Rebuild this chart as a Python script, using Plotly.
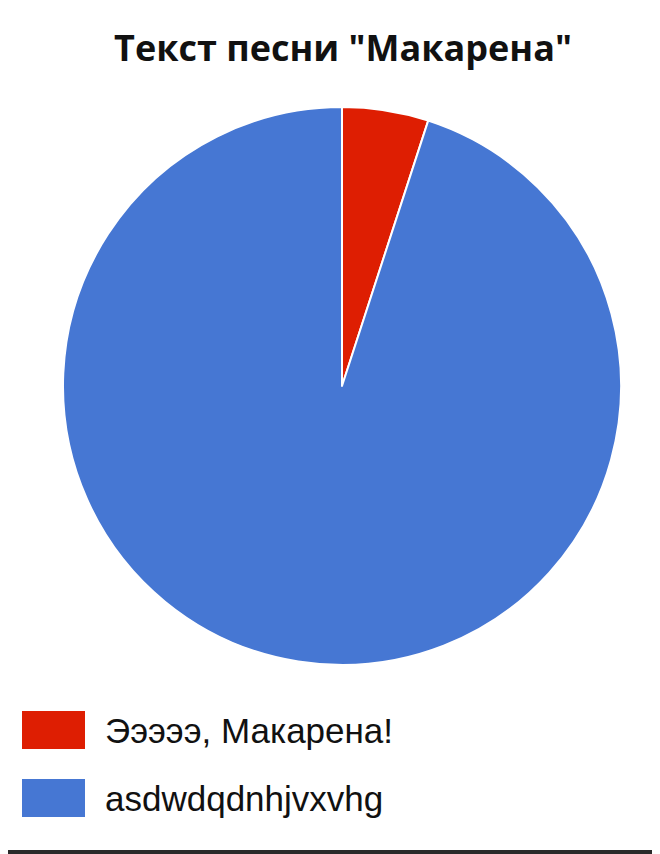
import plotly.graph_objects as go

# slice data (share of the song text)
labels = ["Эээээ, Макарена!", "asdwdqdnhjvxvhg"]
shares = [5, 95]
colors = ["#DE1E02", "#4677D3"]

title_text = 'Текст песни "Макарена"'

W, H = 660, 854
OFF = 8  # page body margin pushes the figure 8px right and down


def px_x(x):
    return (x - OFF) / W


def px_y(y):
    return 1 - (y - OFF) / H


fig = go.Figure()
fig.add_trace(
    go.Pie(
        labels=labels,
        values=shares,
        sort=False,
        direction="clockwise",
        rotation=0,
        marker=dict(colors=colors, line=dict(color="white", width=2)),
        textinfo="none",
        hoverinfo="label+percent",
        showlegend=False,
        domain=dict(x=[px_x(63), px_x(621)], y=[px_y(665), px_y(107)]),
    )
)

# hand-made legend: big colour boxes + labels, one row per slice
shapes = []
annotations = []
row_top = [711, 779]
for i, (lab, col) in enumerate(zip(labels, colors)):
    y0 = row_top[i]
    shapes.append(
        dict(
            type="rect", xref="paper", yref="paper",
            x0=px_x(22), x1=px_x(85), y0=px_y(y0 + 38), y1=px_y(y0),
            fillcolor=col, line=dict(color=col, width=0),
        )
    )
    annotations.append(
        dict(
            text=lab, xref="paper", yref="paper",
            x=px_x(103), y=px_y(y0 + 19), xanchor="left", yanchor="middle",
            showarrow=False,
            font=dict(family="Liberation Sans, Arial", size=35, color="#111"),
        )
    )

# dark edge along the bottom of the picture
shapes.append(
    dict(
        type="line", xref="paper", yref="paper",
        x0=0, x1=1, y0=px_y(852), y1=px_y(852),
        line=dict(color="#2a2a2a", width=4),
    )
)

fig.update_layout(
    width=W,
    height=H,
    margin=dict(l=0, r=0, t=0, b=0),
    paper_bgcolor="white",
    plot_bgcolor="white",
    title=dict(
        text="<b>" + title_text + "</b>",
        x=px_x(343), xanchor="center",
        y=px_y(48), yanchor="middle",
        font=dict(family="Open Sans", size=36, color="#111"),
    ),
    shapes=shapes,
    annotations=annotations,
)

fig.write_html("out.html")
